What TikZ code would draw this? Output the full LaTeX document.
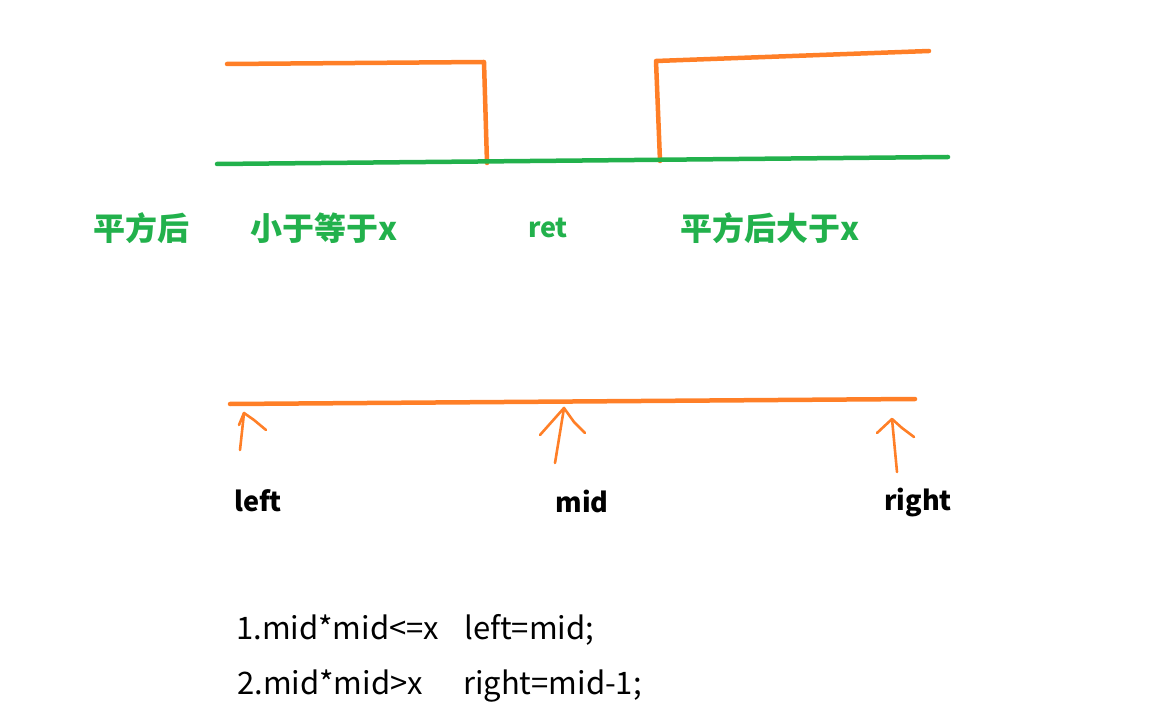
\documentclass[tikz,border=0pt]{standalone}
\usepackage{fontspec}
\setmainfont{Noto Sans CJK SC}
\definecolor{porange}{HTML}{FF7F27}
\definecolor{pgreen}{HTML}{22B14C}
\tikzset{
  oline/.style={draw=porange,line width=4.5pt,line cap=round,line join=round},
  gline/.style={draw=pgreen,line width=4.5pt,line cap=round},
  penarrow/.style={draw=porange,line width=2.6pt,line cap=round,line join=round},
  glabel/.style={text=pgreen,font=\bfseries\fontsize{32}{36}\selectfont,inner sep=0pt},
  glabelr/.style={text=pgreen,font=\bfseries\fontsize{27}{31}\selectfont,inner sep=0pt},
  blabel/.style={text=black,font=\bfseries\fontsize{27}{31}\selectfont,inner sep=0pt},
  code/.style={text=black,font=\fontsize{31}{35}\selectfont,inner sep=0pt,anchor=west}
}
\begin{document}
\begin{tikzpicture}[x=1pt,y=-1pt]
\useasboundingbox (0,0) rectangle (1169,708);
% top step lines
\coordinate (tl1) at (227,64);
\coordinate (tl2) at (484,62);
\coordinate (tl3) at (487,163);
\draw[oline] (tl1) -- (tl2) -- (tl3);
\coordinate (tr1) at (660,161);
\coordinate (tr2) at (656,61);
\coordinate (tr3) at (929,51);
\draw[oline] (tr1) -- (tr2) -- (tr3);
% green baseline
\coordinate (g1) at (217,164);
\coordinate (g2) at (948,157);
\draw[gline] (g1) -- (g2);
% labels
\node[glabel] (lab0) at (141,228) {平方后};
\node[glabel] (lab1) at (324,228) {小于等于x};
\node[glabelr] (lab2) at (548,228) {ret};
\node[glabel] (lab3) at (770,228) {平方后大于x};
% bottom line
\coordinate (b1) at (230,404);
\coordinate (b2) at (915,399);
\draw[oline] (b1) -- (b2);
% hand-drawn arrows
\coordinate (la) at (244,413);
\coordinate (ma) at (564,408);
\coordinate (ra) at (892,419);
\draw[penarrow] (240,450) -- (la);
\draw[penarrow] (239,425) -- (la) -- (254,420) -- (266,430);
\draw[penarrow] (555,463) -- (ma);
\draw[penarrow] (540,435) -- (ma) -- (574,422) -- (585,433);
\draw[penarrow] (897,472) -- (ra);
\draw[penarrow] (877,433) -- (ra) -- (902,428) -- (914,437);
% position labels
\node[blabel] (lft) at (258,501) {left};
\node[blabel] (mid) at (582,501) {mid};
\node[blabel] (rgt) at (918,503) {right};
% code lines
\node[code] (c1) at (236,630) {1.mid*mid<=x\hspace{25pt}left=mid;};
\node[code] (c2) at (237,686) {2.mid*mid>x\hspace{40pt}right=mid-1;};
\end{tikzpicture}
\end{document}
